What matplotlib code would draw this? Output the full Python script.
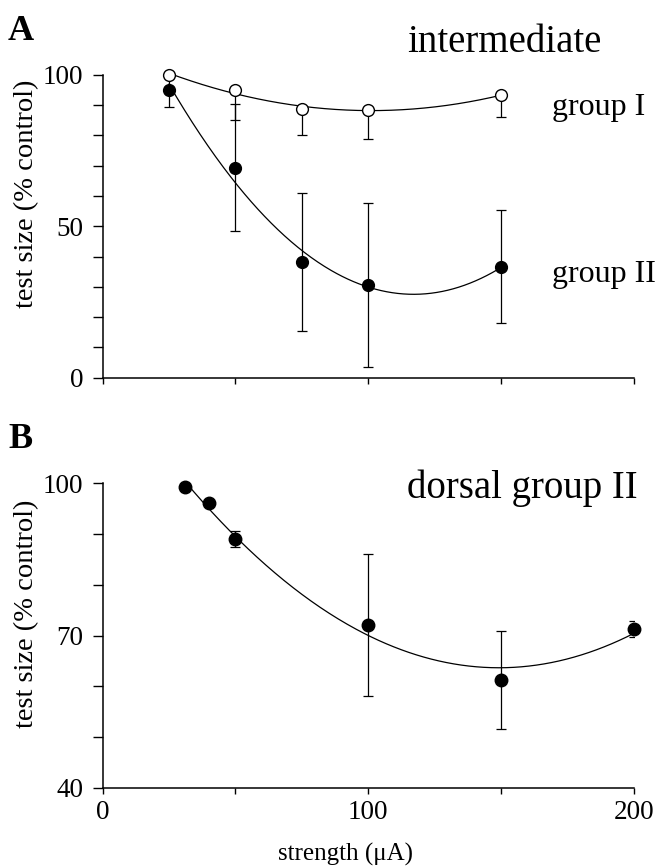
import numpy as np
import matplotlib
matplotlib.use('Agg')
import matplotlib.pyplot as plt

plt.rcParams['font.family'] = ['Liberation Serif', 'DejaVu Serif']

# ---------------- data ----------------
# Panel A (intermediate)
a_strength = [25, 50, 75, 100, 150]
a_group1 = [100, 95, 88.6, 88.3, 93.3]
a_group1_err_low = [0, 10, 8.6, 9.5, 7.3]
a_group2 = [95, 69.3, 38.1, 30.5, 36.6]
a_group2_err = [5.5, 21, 22.7, 27, 18.6]

# Panel B (dorsal group II)
b_strength = [31, 40, 50, 100, 150, 200]
b_values = [99.3, 96.1, 89.0, 72.1, 61.2, 71.3]
b_err = [0, 0, 1.6, 14, 9.7, 1.5]

a_yticks = [0, 10, 20, 30, 40, 50, 60, 70, 80, 90, 100]
a_yticklabels = ['0', '', '', '', '', '50', '', '', '', '', '100']
b_yticks = [40, 50, 60, 70, 80, 90, 100]
b_yticklabels = ['40', '', '', '70', '', '', '100']
xticks = [0, 50, 100, 150, 200]
b_xticklabels = ['0', '', '100', '', '200']


def fit_curve(x, y, deg, n=300):
    c = np.polyfit(x, y, deg)
    xs = np.linspace(min(x), max(x), n)
    return xs, np.polyval(c, xs)


fig = plt.figure(figsize=(6.59, 8.68), dpi=100)
W, H = 659.0, 868.0
axA = fig.add_axes([102.5 / W, (H - 377.7) / H, 531.5 / W, 303.0 / H])
axB = fig.add_axes([102.5 / W, (H - 787.7) / H, 531.5 / W, 304.4 / H])

lw = 0.9
ms = 8.5
for ax in (axA, axB):
    ax.set_xlim(0, 200)
    for s in ('top', 'right'):
        ax.spines[s].set_visible(False)
    for s in ('left', 'bottom'):
        ax.spines[s].set_linewidth(1.1)
    ax.tick_params(axis='y', direction='out', length=7, width=1.0,
                   labelsize=19.5, pad=7)
    ax.tick_params(axis='x', direction='out', length=4, width=1.0,
                   labelsize=19.5, pad=5)
    ax.set_xticks(xticks)

# ---- Panel A ----
axA.set_ylim(0, 100)
axA.set_yticks(a_yticks)
axA.set_yticklabels(a_yticklabels)
axA.set_xticklabels([''] * len(xticks))

xs, ys = fit_curve(a_strength, a_group2, 2)
axA.plot(xs, ys, color='black', lw=lw, zorder=2)
xs, ys = fit_curve(a_strength, a_group1, 2)
axA.plot(xs, ys, color='black', lw=lw, zorder=2)

axA.errorbar(a_strength, a_group2, yerr=a_group2_err, fmt='none',
             ecolor='black', elinewidth=lw, capsize=3.5, capthick=lw, zorder=3)
axA.errorbar(a_strength, a_group1, yerr=[a_group1_err_low, [0] * len(a_strength)],
             fmt='none', ecolor='black', elinewidth=lw, capsize=3.5,
             capthick=lw, zorder=3)
axA.plot(a_strength, a_group2, 'o', color='black', ms=ms, zorder=5, clip_on=False)
axA.plot(a_strength, a_group1, 'o', mfc='white', mec='black', mew=1.0, ms=ms,
         zorder=6, clip_on=False)

# ---- Panel B ----
axB.set_ylim(40, 100)
axB.set_yticks(b_yticks)
axB.set_yticklabels(b_yticklabels)
axB.set_xticklabels(b_xticklabels)

xs, ys = fit_curve(b_strength, b_values, 2)
axB.plot(xs, ys, color='black', lw=lw, zorder=2)
axB.errorbar(b_strength, b_values, yerr=b_err, fmt='none', ecolor='black',
             elinewidth=lw, capsize=3.5, capthick=lw, zorder=3)
axB.plot(b_strength, b_values, 'o', color='black', ms=9, zorder=5, clip_on=False)

# ---- texts ----
def fx(px):
    return px / W


def fy(py):
    return (H - py) / H


fig.text(fx(8), fy(40), 'A', fontsize=26, fontweight='bold', va='baseline', ha='left')
fig.text(fx(8), fy(448), 'B', fontsize=26, fontweight='bold', va='baseline', ha='left')
fig.text(fx(407), fy(51.7), 'intermediate', fontsize=28, va='baseline', ha='left')
fig.text(fx(552), fy(115), 'group I', fontsize=23, va='baseline', ha='left')
fig.text(fx(552), fy(281.7), 'group II', fontsize=23, va='baseline', ha='left')
fig.text(fx(407), fy(498), 'dorsal group II', fontsize=28, va='baseline', ha='left')

fig.text(fx(27), fy(194), 'test size (% control)', fontsize=20.5, rotation=90,
         ha='center', va='center')
fig.text(fx(27), fy(614), 'test size (% control)', fontsize=20.5, rotation=90,
         ha='center', va='center')
fig.text(fx(346), fy(861), 'strength (\u03bcA)', fontsize=18, ha='center',
         va='baseline')

fig.savefig('out.png', dpi=100)
